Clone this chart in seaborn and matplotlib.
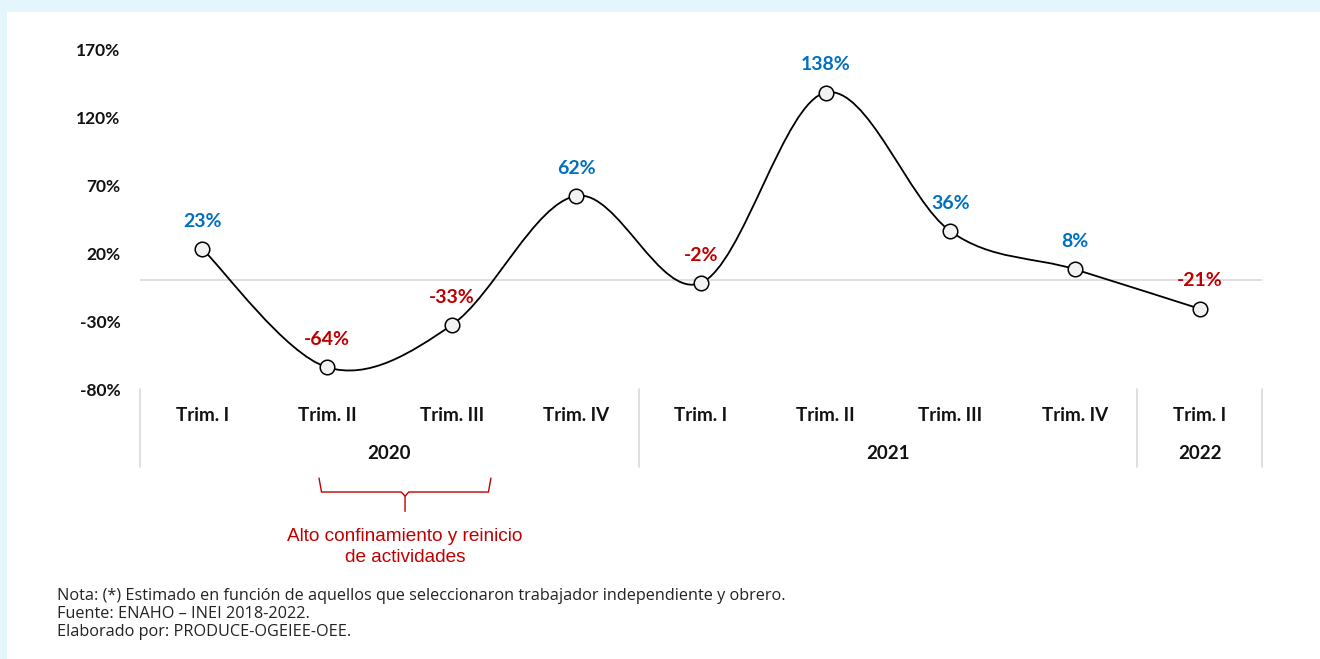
import matplotlib
matplotlib.use('Agg')
import matplotlib.pyplot as plt
import matplotlib.transforms as mtransforms
from matplotlib.path import Path
from matplotlib.patches import PathPatch, Rectangle
import seaborn as sns
import numpy as np
import pandas as pd

# Data
quarters = ['Trim. I', 'Trim. II', 'Trim. III', 'Trim. IV',
            'Trim. I', 'Trim. II', 'Trim. III', 'Trim. IV', 'Trim. I']
years = ['2020', '2021', '2022']
year_spans = [(0, 3), (4, 7), (8, 8)]
values = [23, -64, -33, 62, -2, 138, 36, 8, -21]
yticks = [-80, -30, 20, 70, 120, 170]
note_lines = ['Nota: (*) Estimado en función de aquellos que seleccionaron trabajador independiente y obrero.',
              'Fuente: ENAHO – INEI 2018-2022.',
              'Elaborado por: PRODUCE-OGEIEE-OEE.']
annotation = 'Alto confinamiento y reinicio\nde actividades'

df = pd.DataFrame({'x': np.arange(len(values)), 'valor': values})

blue = '#0070c0'
red = '#c00000'
sep_gray = '#d9d9d9'

sns.set_theme(style='white')
plt.rcParams['font.family'] = ['Lato', 'DejaVu Sans']
plt.rcParams['text.color'] = '#111111'
plt.rcParams['ytick.color'] = '#111111'

fig = plt.figure(figsize=(13.2, 6.59), dpi=100)
fig.patch.set_facecolor('white')
# light blue frame (top and left)
fig.patches.append(Rectangle((0, 1 - 12 / 659), 1, 12 / 659, transform=fig.transFigure,
                             facecolor='#e5f5fc', edgecolor='none', zorder=0))
fig.patches.append(Rectangle((0, 0), 7 / 1320, 1, transform=fig.transFigure,
                             facecolor='#e5f5fc', edgecolor='none', zorder=0))

ax = fig.add_axes([140 / 1320, 1 - 389 / 659, 1122 / 1320, 340 / 659])
ax.set_xlim(-0.5, len(values) - 0.5)
ax.set_ylim(-80, 170)

# smooth line (Bezier through points, like Excel's smoothed line)
pts = np.column_stack([df['x'].values, df['valor'].values]).astype(float)
ext = np.vstack([pts[0], pts, pts[-1]])
verts = [tuple(pts[0])]
codes = [Path.MOVETO]
for i in range(len(pts) - 1):
    p0, p1, p2, p3 = ext[i], ext[i + 1], ext[i + 2], ext[i + 3]
    c1 = p1 + (p2 - p0) / 6
    c2 = p2 - (p3 - p1) / 6
    verts += [tuple(c1), tuple(c2), tuple(p2)]
    codes += [Path.CURVE4] * 3
ax.add_patch(PathPatch(Path(verts, codes), facecolor='none', edgecolor='black', lw=1.3, zorder=3))

sns.scatterplot(data=df, x='x', y='valor', ax=ax, s=110, color='#f2f2f2',
                edgecolor='black', linewidth=1.1, zorder=4, legend=False)

# zero line
ax.axhline(0, color=sep_gray, lw=1.2, zorder=1)

# data labels
for x, v in zip(df['x'], df['valor']):
    ax.annotate(f'{v}%', (x, v), xytext=(0, 20), textcoords='offset points',
                ha='center', va='center', fontsize=14, fontweight='bold',
                color=blue if v > 0 else red)

# y axis
ax.set_yticks(yticks)
ax.set_yticklabels([f'{t}%' for t in yticks], fontsize=12.5, fontweight='bold')
ax.tick_params(axis='y', length=0, pad=14)
ax.set_xticks([])
ax.set_xlabel('')
ax.set_ylabel('')
for s in ax.spines.values():
    s.set_visible(False)

# category axis (two levels)
trans = mtransforms.blended_transform_factory(ax.transData, ax.transAxes)
for i, q in enumerate(quarters):
    ax.text(i, -0.079, q, transform=trans, ha='center', va='center',
            fontsize=13.5, fontweight='bold', clip_on=False)
for yr, (a, b) in zip(years, year_spans):
    ax.text((a + b) / 2, -0.191, yr, transform=trans, ha='center', va='center',
            fontsize=13.5, fontweight='bold', clip_on=False)
for xs in [-0.5, 3.5, 7.5, 8.5]:
    ax.plot([xs, xs], [0, -0.229], transform=trans, color=sep_gray, lw=1.2, clip_on=False)

# brace annotation
bl, br, bc = 0.936, 2.315, 1.626
y_top, y_mid, y_bot = -0.262, -0.303, -0.36
ax.plot([bl, bl + 0.02, bc - 0.03, bc, bc], [y_top, y_mid, y_mid, y_mid - 0.012, y_bot],
        transform=trans, color=red, lw=1.0, clip_on=False)
ax.plot([bc, bc + 0.03, br - 0.02, br], [y_mid - 0.012, y_mid, y_mid, y_top],
        transform=trans, color=red, lw=1.0, clip_on=False)
ax.text(bc, -0.465, annotation, transform=trans, ha='center', va='center',
        fontsize=13.7, color=red, family=['Liberation Sans', 'DejaVu Sans'],
        linespacing=1.35, clip_on=False)

# footer
for k, line in enumerate(note_lines):
    fig.text(57 / 1320, 1 - (596 + 18 * k) / 659, line, ha='left', va='center',
             fontsize=11.7, color='#222222', family=['Open Sans', 'DejaVu Sans'])

fig.savefig('out.png', dpi=100, facecolor=fig.get_facecolor())
